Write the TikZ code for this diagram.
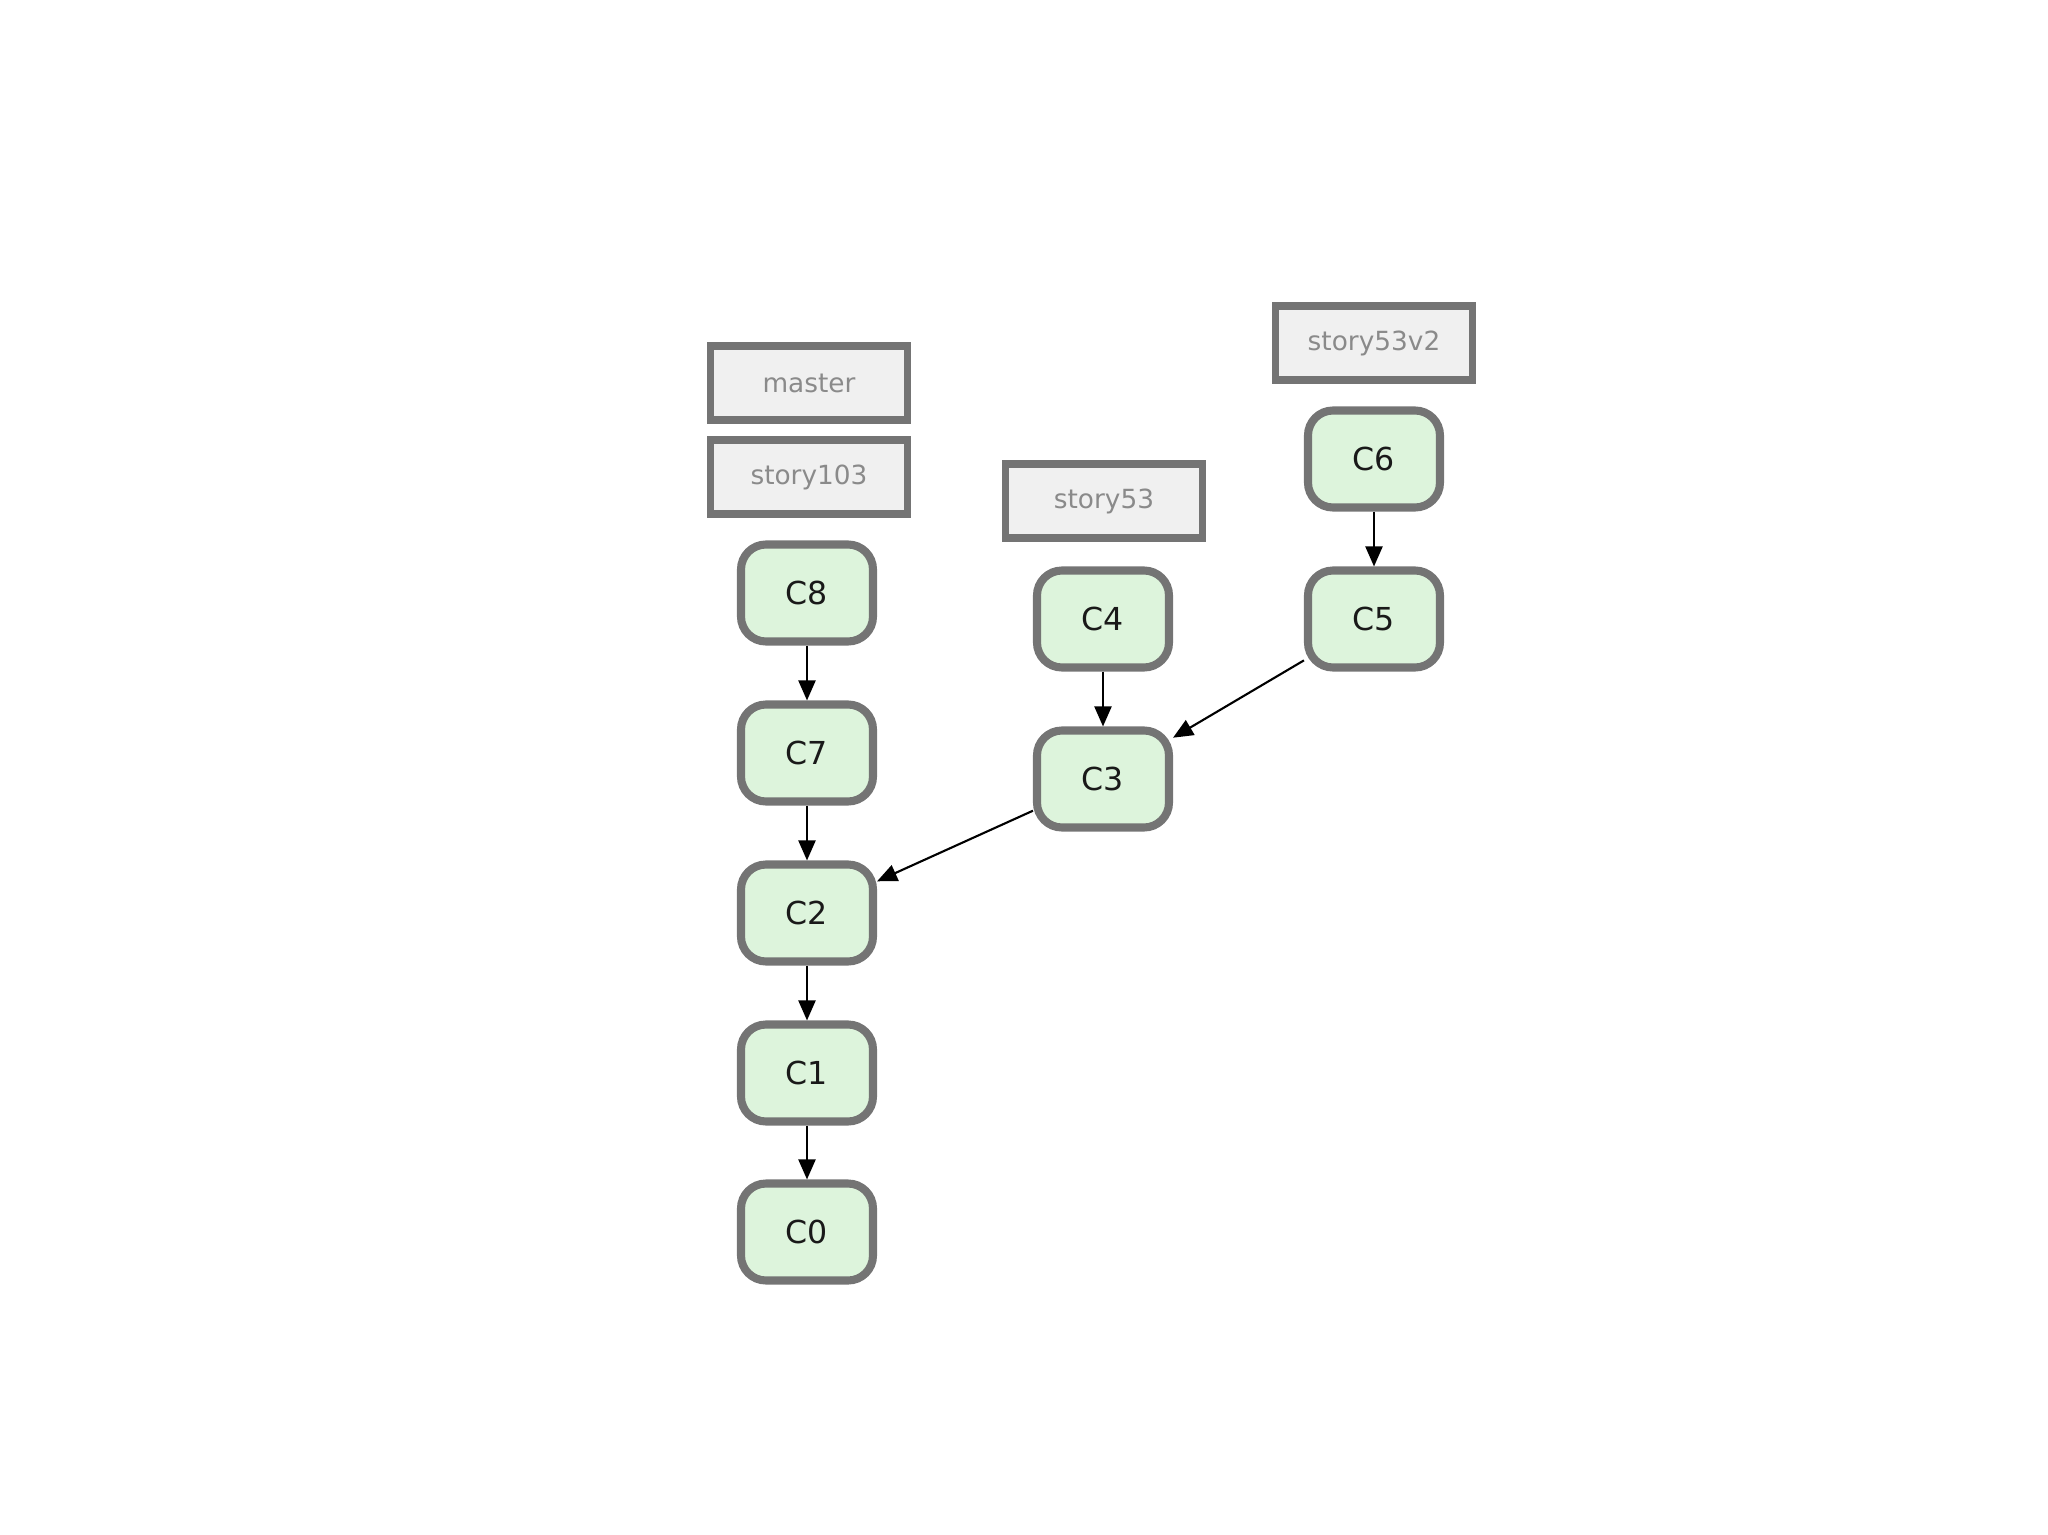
\documentclass[tikz,border=0pt]{standalone}
\usepackage{fontspec}
\setsansfont{DejaVu Sans}
\usetikzlibrary{arrows.meta}
\definecolor{commitfill}{HTML}{DDF4DC}
\definecolor{edgegray}{HTML}{747474}
\definecolor{branchfill}{HTML}{F0F0F0}
\definecolor{branchtext}{HTML}{8A8A8A}

\begin{document}
\begin{tikzpicture}[
        commit/.style={draw=edgegray, line width=2.3pt, fill=commitfill, rounded corners=0.25cm,
            minimum width=1.32cm, minimum height=0.97cm, inner sep=0pt,
            font=\sffamily\fontsize{9}{10}\selectfont, text=black!90},
        branch/.style={draw=edgegray, line width=2pt, fill=branchfill,
            minimum width=1.97cm, minimum height=0.74cm, inner sep=0pt,
            font=\sffamily\fontsize{7.5}{9}\selectfont, text=branchtext},
        parent/.style={draw=black, line width=0.6pt, -{Triangle[length=0.2cm,width=0.17cm]}}
    ]
                \useasboundingbox (0, 0) rectangle (20.48, -15.35);
                % branch labels
                \node [branch] (master) at (8.09, -3.83) {master};
                \node [branch] (story103) at (8.09, -4.77) {story103};
                \node [branch] (story53) at (11.04, -5.01) {story53};
                \node [branch] (story53v2) at (13.74, -3.43) {story53v2};
                % commits
                \node [commit] (c8) at (8.07, -5.93) {C8};
                \node [commit] (c7) at (8.07, -7.53) {C7};
                \node [commit] (c2) at (8.07, -9.13) {C2};
                \node [commit] (c1) at (8.07, -10.73) {C1};
                \node [commit] (c0) at (8.07, -12.32) {C0};
                \node [commit] (c4) at (11.03, -6.19) {C4};
                \node [commit] (c3) at (11.03, -7.79) {C3};
                \node [commit] (c6) at (13.74, -4.59) {C6};
                \node [commit] (c5) at (13.74, -6.19) {C5};
                % parents
                \draw [parent] (c8) -- (c7);
                \draw [parent] (c7) -- (c2);
                \draw [parent] (c2) -- (c1);
                \draw [parent] (c1) -- (c0);
                \draw [parent] (c4) -- (c3);
                \draw [parent] (c3) -- (c2);
                \draw [parent] (c6) -- (c5);
                \draw [parent] (c5) -- (c3);
            \end{tikzpicture}
\end{document}
